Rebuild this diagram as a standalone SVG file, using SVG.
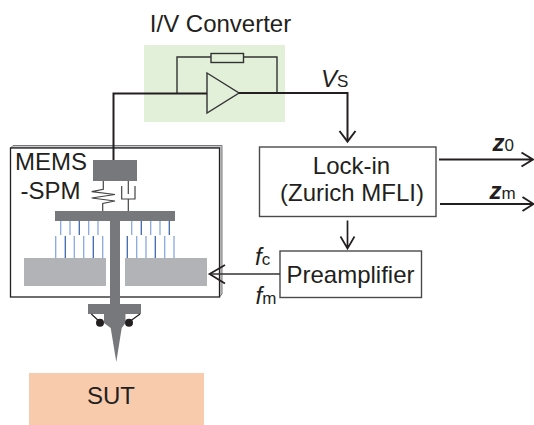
<svg xmlns="http://www.w3.org/2000/svg" width="534" height="425" viewBox="0 0 534 425">
<style>
text{font-family:"Liberation Sans",Arial,sans-serif;fill:#231f20;font-size:24px}
.sub{font-style:normal;font-weight:normal;font-size:17px}
.l{fill:none;stroke:#231f20;stroke-width:2}
.t{fill:none;stroke:#333;stroke-width:1.4}
.h{fill:none;stroke:#231f20;stroke-width:1.7}
.s{fill:none;stroke:#444;stroke-width:1.2}
.g{fill:#77787b}
.c{fill:#b1b3b6}
.b1{stroke:#8aa9dc;stroke-width:1.3}
.b2{stroke:#3f67b1;stroke-width:1.3}
.box{fill:#fff;stroke:#4a4a4a;stroke-width:1.4}
</style>
<rect width="534" height="425" fill="#fff"/>
<g id="iv-converter">
<rect x="144" y="45" width="141" height="77" fill="#e2efd9"/>
<text x="220.500" y="32" text-anchor="middle">I/V Converter</text>
<path class="t" d="M177 93V57H211M243 57H277V93"/>
<rect x="211" y="53.500" width="32.500" height="9" class="t"/>
<path d="M207 73L239 93L207 113Z" class="t"/>
</g>
<g id="mems-spm">
<path d="M10.500 148L13 145.500H222V294L219.500 297V148Z" fill="#c9cacc" stroke="#77787b" stroke-width="1"/>
<rect x="10.500" y="148" width="209" height="149" fill="#fff" stroke="#231f20" stroke-width="1.300"/>
<text x="15" y="170">MEMS</text>
<text x="20.500" y="199">-SPM</text>
<rect x="93" y="160" width="44" height="21" class="g"/>
<path class="s" d="M103.300 181V189.300L91.700 191.700L115 194.500L91.700 198L115 201L102.700 203.500V211"/>
<path class="s" d="M121.700 186V199H135V186M128.300 181V194M128.300 199V211"/>
<rect x="55" y="211" width="120" height="10" class="g"/>
<rect x="24" y="258" width="82" height="28" class="c"/>
<rect x="125" y="258" width="82" height="28" class="c"/>
<g>
<path class="b1" d="M60.700 221V235M70 221V235M88.700 221V235M98 221V235M55.700 236V258M74.300 236V258M83.700 236V258M102.700 236V258M131.700 221V235M150.700 221V235M160 221V235M136.700 236V258M146 236V258M164.700 236V258M174 236V258"/>
<path class="b2" d="M79.300 221V235M141.300 221V235M169.300 221V235M65.300 236V258M93.300 236V258M127.300 236V258M155.300 236V258"/>
</g>
<rect x="110" y="221" width="10" height="85" class="g"/>
<rect x="88" y="304" width="53" height="10" class="g"/>
<path class="g" d="M104 314H125.500V323L121.700 328L116.300 362L110.700 328L104 323Z"/>
<path d="M91.300 314L100 322M140 314L129 322" stroke="#231f20" stroke-width="1.200"/>
<circle cx="100" cy="322.700" r="4" fill="#231f20"/>
<circle cx="129" cy="322.700" r="4" fill="#231f20"/>
</g>
<g id="sut">
<rect x="29" y="373" width="175" height="53" fill="#f8cbad"/>
<text x="111" y="404" text-anchor="middle">SUT</text>
</g>
<g id="lock-in">
<rect x="259.500" y="147" width="176.500" height="69.500" class="box"/>
<text x="351.500" y="174" text-anchor="middle">Lock-in</text>
<text x="352" y="200.500" text-anchor="middle">(Zurich MFLI)</text>
</g>
<g id="preamplifier">
<rect x="280" y="251" width="141.500" height="46.500" class="box"/>
<text x="350.500" y="282.500" text-anchor="middle">Preamplifier</text>
</g>
<g id="connectors">
<path class="l" d="M113.500 160V93.500H207M239 93H347.500V141"/>
<path class="l" d="M339.500 131L347.500 141.500L355.500 131"/>
<path class="h" d="M347.500 220.500V249M340.500 236.500L347.500 248.500L354.500 236.500"/>
<path class="l" d="M439 159.500H532M521.500 152.500L533 159.500L521.500 166.500"/>
<path class="l" d="M440 204H532.500M522.500 197L533.500 204L522.500 211"/>
<path d="M280 274H210" stroke="#333" stroke-width="1.400" fill="none"/>
<path class="h" d="M225 265L209.500 274L225 283.500"/>
</g>
<g id="labels">
<text x="321" y="87" font-style="italic">V<tspan class="sub">S</tspan></text>
<text x="492.500" y="151" font-weight="bold" font-style="italic">z<tspan class="sub">0</tspan></text>
<text x="489.500" y="199" font-weight="bold" font-style="italic">z<tspan class="sub">m</tspan></text>
<text x="255" y="265" font-style="italic">f<tspan class="sub">c</tspan></text>
<text x="255.500" y="304" font-style="italic">f<tspan class="sub">m</tspan></text>
</g>
</svg>
